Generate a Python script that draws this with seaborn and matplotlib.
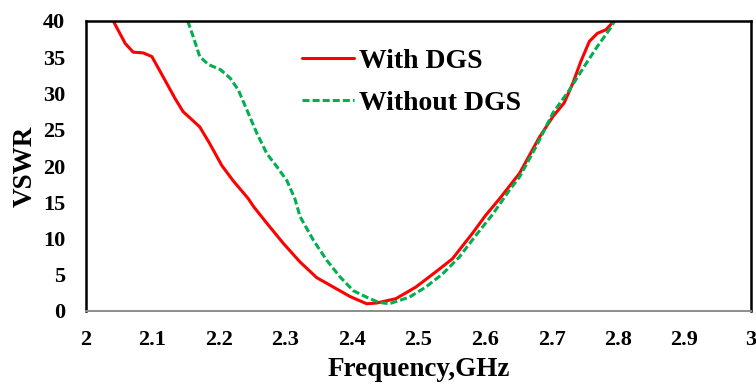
import matplotlib
matplotlib.use("Agg")
import matplotlib.pyplot as plt
import seaborn as sns
import pandas as pd

freq_with = [2.041, 2.059, 2.071, 2.086, 2.099, 2.116, 2.134, 2.146, 2.171, 2.186,
             2.204, 2.221, 2.244, 2.252, 2.272, 2.297, 2.322, 2.347, 2.372, 2.397,
             2.422, 2.437, 2.466, 2.496, 2.526, 2.551, 2.581, 2.601, 2.622, 2.652,
             2.682, 2.702, 2.719, 2.732, 2.744, 2.757, 2.769, 2.782, 2.794]
vswr_with = [40, 36.9, 35.7, 35.6, 35.1, 32.3, 29.3, 27.5, 25.4, 23.1,
             20.1, 18.0, 15.5, 14.4, 12.1, 9.3, 6.75, 4.6, 3.3, 2.0,
             1.0, 1.1, 1.7, 3.3, 5.4, 7.2, 10.7, 13.2, 15.5, 19.0,
             24.0, 26.8, 28.7, 31.4, 34.4, 37.2, 38.3, 38.8, 40]

freq_without = [2.153, 2.161, 2.171, 2.184, 2.202, 2.217, 2.229, 2.244, 2.257, 2.272,
                2.287, 2.302, 2.314, 2.322, 2.342, 2.362, 2.382, 2.402, 2.422, 2.440,
                2.456, 2.486, 2.511, 2.536, 2.561, 2.586, 2.612, 2.637, 2.652, 2.677,
                2.702, 2.727, 2.749, 2.769, 2.787, 2.795]
vswr_without = [40, 37.9, 35.1, 34.0, 33.3, 32.1, 30.5, 27.3, 24.5, 21.7,
                19.9, 18.0, 15.5, 13.0, 9.75, 7.0, 4.7, 2.8, 1.9, 1.2,
                1.0, 1.9, 3.3, 5.1, 7.4, 10.4, 13.4, 16.7, 18.5, 22.7,
                27.3, 30.5, 33.7, 36.5, 38.8, 40]

x_ticks = [2, 2.1, 2.2, 2.3, 2.4, 2.5, 2.6, 2.7, 2.8, 2.9, 3]
x_tick_labels = ["2", "2.1", "2.2", "2.3", "2.4", "2.5", "2.6", "2.7", "2.8", "2.9", "3"]
y_ticks = [0, 5, 10, 15, 20, 25, 30, 35, 40]
series_names = ["With DGS", "Without DGS"]

sns.set_theme(style="white")
plt.rcParams["font.family"] = ["Liberation Serif", "DejaVu Serif"]
plt.rcParams["font.weight"] = "bold"
plt.rcParams["text.color"] = "black"
plt.rcParams["axes.labelcolor"] = "black"
plt.rcParams["xtick.color"] = "black"
plt.rcParams["ytick.color"] = "black"

df_with = pd.DataFrame({"Frequency": freq_with, "VSWR": vswr_with})
df_without = pd.DataFrame({"Frequency": freq_without, "VSWR": vswr_without})

fig = plt.figure(figsize=(7.56, 3.85), dpi=100)
ax = fig.add_axes([86 / 756, 1 - 311 / 385, 665 / 756, 290 / 385])

sns.lineplot(data=df_with, x="Frequency", y="VSWR", ax=ax, color="#FF0000",
             linewidth=2.2, label=series_names[0], sort=False)
sns.lineplot(data=df_without, x="Frequency", y="VSWR", ax=ax, color="#00B050",
             linewidth=2.2, linestyle=(0, (2.3, 1.0)), label=series_names[1], sort=False)

ax.set_xlim(2, 3)
ax.set_ylim(0, 40)
ax.set_xticks(x_ticks)
ax.set_xticklabels(x_tick_labels)
ax.set_yticks(y_ticks)
ax.tick_params(axis="both", length=0, labelsize=16, labelcolor="black")
ax.tick_params(axis="x", pad=14)
ax.tick_params(axis="y", pad=15)
for lab in ax.get_xticklabels() + ax.get_yticklabels():
    lab.set_fontweight("bold")

ax.set_xlabel("Frequency,GHz", fontsize=19.5, fontweight="bold", labelpad=5, color="black")
ax.set_ylabel("VSWR", fontsize=19.5, fontweight="bold", labelpad=4, color="black")

for side in ["left", "top", "right"]:
    ax.spines[side].set_color("black")
    ax.spines[side].set_linewidth(1.8)
ax.spines["bottom"].set_color("#8c8c8c")
ax.spines["bottom"].set_linewidth(1.4)
ax.grid(False)

leg = ax.legend(loc="upper left", bbox_to_anchor=(0.325, 0.905), frameon=False,
                handlelength=1.85, handletextpad=0.2, labelspacing=0.6,
                borderpad=0, borderaxespad=0, prop={"size": 20, "weight": "bold"})
for t in leg.get_texts():
    t.set_color("black")

fig.savefig("out.png", dpi=100)
